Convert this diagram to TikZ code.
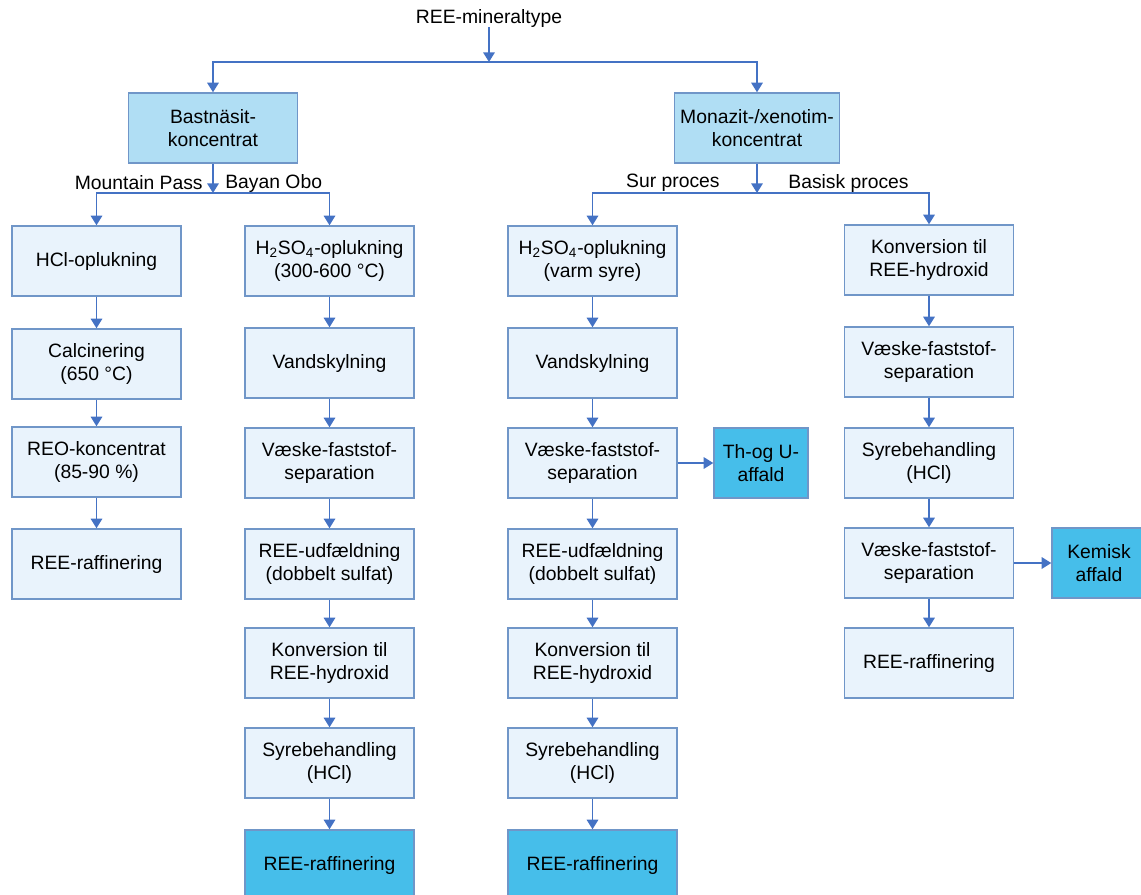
\documentclass[tikz,border=0pt]{standalone}
\usepackage{fontspec}
\setmainfont{Liberation Sans}
\usepackage{tikz}
\usetikzlibrary{arrows.meta}
\definecolor{reeline}{RGB}{68,114,196}
\definecolor{reeedge}{RGB}{112,150,200}
\definecolor{reepale}{RGB}{233,243,252}
\definecolor{reeconc}{RGB}{176,222,244}
\definecolor{reewaste}{RGB}{70,190,234}
\tikzset{
  procbox/.style={rectangle,draw=reeedge,fill=reepale,line width=0.8pt,
    minimum width=3.38cm,minimum height=1.4cm,inner sep=1pt,align=center},
  concbox/.style={procbox,fill=reeconc},
  wastebox/.style={procbox,fill=reewaste,minimum width=1.88cm},
  arr/.style={draw=reeline,line width=1.1pt,-{Triangle[width=6.5pt,length=5.5pt]}},
  lbl/.style={inner sep=0pt},
}

\begin{document}
\begin{tikzpicture}[x=0.02cm,y=-0.02cm,font=\fontsize{11}{13}\selectfont]
        \useasboundingbox (0,0) rectangle (1141,894);
        % top of the tree
        \node (top) at (489,18) [lbl] {REE-mineraltype};
        \node (bast) at (213,128) [concbox] {Bastnäsit-\\koncentrat};
        \node (mona) at (757,128) [concbox,minimum width=3.3cm] {Monazit-/xenotim-\\koncentrat};
        \coordinate (s0) at (489,62);
        \coordinate (s1) at (213,193);
        \coordinate (s2) at (757,193);
        \node (mp) at (203,183) [lbl,anchor=east] {Mountain Pass};
        \node (bo) at (225,183) [lbl,anchor=west] {Bayan Obo};
        \node (sur) at (720,183) [lbl,anchor=east] {Sur proces};
        \node (bas) at (788,183) [lbl,anchor=west] {Basisk proces};
        % Mountain Pass
        \node (a1) at (96.5,261) [procbox] {HCl-oplukning};
        \node (a2) at (96.5,364) [procbox] {Calcinering\\(650 °C)};
        \node (a3) at (96.5,462) [procbox] {REO-koncentrat\\(85-90 \%)};
        \node (a4) at (96.5,564) [procbox] {REE-raffinering};
        % Bayan Obo
        \node (b1) at (329.5,261) [procbox] {H\textsubscript{2}SO\textsubscript{4}-oplukning\\(300-600 °C)};
        \node (b2) at (329.5,363) [procbox] {Vandskylning};
        \node (b3) at (329.5,463) [procbox] {Væske-faststof-\\separation};
        \node (b4) at (329.5,564) [procbox] {REE-udfældning\\(dobbelt sulfat)};
        \node (b5) at (329.5,663) [procbox] {Konversion til\\REE-hydroxid};
        \node (b6) at (329.5,763) [procbox] {Syrebehandling\\(HCl)};
        \node (b7) at (329.5,865) [wastebox,minimum width=3.38cm] {REE-raffinering};
        % sur proces
        \node (c1) at (592.5,261) [procbox] {H\textsubscript{2}SO\textsubscript{4}-oplukning\\(varm syre)};
        \node (c2) at (592.5,363) [procbox] {Vandskylning};
        \node (c3) at (592.5,463) [procbox] {Væske-faststof-\\separation};
        \node (c4) at (592.5,564) [procbox] {REE-udfældning\\(dobbelt sulfat)};
        \node (c5) at (592.5,663) [procbox] {Konversion til\\REE-hydroxid};
        \node (c6) at (592.5,763) [procbox] {Syrebehandling\\(HCl)};
        \node (c7) at (592.5,865) [wastebox,minimum width=3.38cm] {REE-raffinering};
        \node (thu) at (761,463) [wastebox] {Th-og U-\\affald};
        % basisk proces
        \node (d1) at (929,260) [procbox] {Konversion til\\REE-hydroxid};
        \node (d2) at (929,362) [procbox] {Væske-faststof-\\separation};
        \node (d3) at (929,463) [procbox] {Syrebehandling\\(HCl)};
        \node (d4) at (929,563) [procbox] {Væske-faststof-\\separation};
        \node (d5) at (929,663) [procbox] {REE-raffinering};
        \node (kem) at (1099,563) [wastebox] {Kemisk\\affald};
        % connectors
        \draw [arr] (top) -- (s0);
        \draw [arr] (s0) -| (bast);
        \draw [arr] (s0) -| (mona);
        \draw [arr] (bast) -- (s1);
        \draw [arr] (s1) -| (a1);
        \draw [arr] (s1) -| (b1);
        \draw [arr] (mona) -- (s2);
        \draw [arr] (s2) -| (c1);
        \draw [arr] (s2) -| (d1);
        \draw [arr] (a1) -- (a2);
        \draw [arr] (a2) -- (a3);
        \draw [arr] (a3) -- (a4);
        \draw [arr] (b1) -- (b2);
        \draw [arr] (b2) -- (b3);
        \draw [arr] (b3) -- (b4);
        \draw [arr] (b4) -- (b5);
        \draw [arr] (b5) -- (b6);
        \draw [arr] (b6) -- (b7);
        \draw [arr] (c1) -- (c2);
        \draw [arr] (c2) -- (c3);
        \draw [arr] (c3) -- (c4);
        \draw [arr] (c4) -- (c5);
        \draw [arr] (c5) -- (c6);
        \draw [arr] (c6) -- (c7);
        \draw [arr] (c3) -- (thu);
        \draw [arr] (d1) -- (d2);
        \draw [arr] (d2) -- (d3);
        \draw [arr] (d3) -- (d4);
        \draw [arr] (d4) -- (d5);
        \draw [arr] (d4) -- (kem);
      \end{tikzpicture}
\end{document}
